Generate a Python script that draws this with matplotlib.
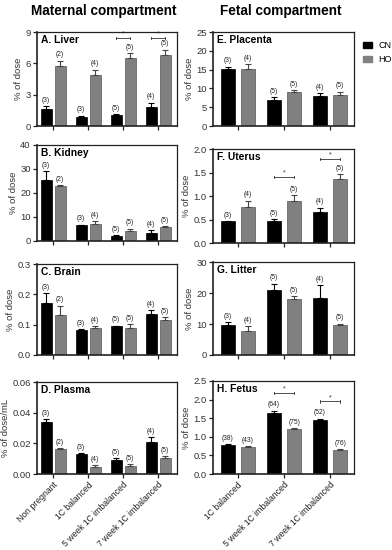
import matplotlib
matplotlib.use("Agg")
import matplotlib.pyplot as plt
import numpy as np
from matplotlib.patches import Patch

plt.rcParams['font.family'] = ['Liberation Sans', 'DejaVu Sans']

mat_groups = ["Non pregnant", "1C balanced", "5 week 1C imbalanced", "7 week 1C imbalanced"]
fet_groups = ["1C balanced", "5 week 1C imbalanced", "7 week 1C imbalanced"]

# Maternal panels
liver_cn = [1.65, 0.9, 1.1, 1.85]
liver_cn_err = [0.25, 0.1, 0.05, 0.4]
liver_ho = [5.75, 4.9, 6.5, 6.8]
liver_ho_err = [0.5, 0.5, 0.5, 0.5]
liver_n_cn = ["(3)", "(3)", "(5)", "(4)"]
liver_n_ho = ["(2)", "(4)", "(5)", "(5)"]
liver_sig = [2, 3]
liver_sig_y = [8.4, 8.4]

kidney_cn = [25.5, 6.5, 2.0, 3.3]
kidney_cn_err = [3.5, 0.3, 0.5, 1.1]
kidney_ho = [23.0, 7.2, 4.1, 5.8]
kidney_ho_err = [0.3, 1.1, 1.0, 0.4]
kidney_n_cn = ["(3)", "(3)", "(5)", "(4)"]
kidney_n_ho = ["(2)", "(4)", "(5)", "(5)"]

brain_cn = [0.171, 0.082, 0.095, 0.135]
brain_cn_err = [0.033, 0.004, 0.002, 0.012]
brain_ho = [0.132, 0.089, 0.089, 0.114]
brain_ho_err = [0.031, 0.007, 0.012, 0.011]
brain_n_cn = ["(3)", "(3)", "(5)", "(4)"]
brain_n_ho = ["(2)", "(4)", "(5)", "(5)"]

plasma_cn = [0.034, 0.0128, 0.009, 0.0207]
plasma_cn_err = [0.0017, 0.0009, 0.0015, 0.0033]
plasma_ho = [0.0163, 0.0047, 0.0051, 0.0105]
plasma_ho_err = [0.0007, 0.0009, 0.0011, 0.0011]
plasma_n_cn = ["(3)", "(3)", "(5)", "(4)"]
plasma_n_ho = ["(2)", "(4)", "(5)", "(5)"]

# Fetal panels
placenta_cn = [15.1, 6.9, 7.9]
placenta_cn_err = [0.7, 0.7, 0.8]
placenta_ho = [15.1, 9.1, 8.3]
placenta_ho_err = [1.4, 0.5, 0.8]
placenta_n_cn = ["(3)", "(5)", "(4)"]
placenta_n_ho = ["(4)", "(5)", "(5)"]

uterus_cn = [0.46, 0.47, 0.65]
uterus_cn_err = [0.01, 0.04, 0.1]
uterus_ho = [0.76, 0.89, 1.36]
uterus_ho_err = [0.14, 0.13, 0.1]
uterus_n_cn = ["(3)", "(5)", "(4)"]
uterus_n_ho = ["(4)", "(5)", "(5)"]
uterus_sig = [1, 2]
uterus_sig_y = [1.41, 1.79]

litter_cn = [9.6, 21.0, 18.5]
litter_cn_err = [0.9, 2.0, 4.0]
litter_ho = [7.9, 18.0, 9.6]
litter_ho_err = [1.4, 0.9, 0.5]
litter_n_cn = ["(3)", "(5)", "(4)"]
litter_n_ho = ["(4)", "(5)", "(5)"]

fetus_cn = [0.78, 1.65, 1.45]
fetus_cn_err = [0.03, 0.05, 0.04]
fetus_ho = [0.72, 1.21, 0.64]
fetus_ho_err = [0.03, 0.03, 0.02]
fetus_n_cn = ["(38)", "(64)", "(52)"]
fetus_n_ho = ["(43)", "(75)", "(76)"]
fetus_sig = [1, 2]
fetus_sig_y = [2.18, 1.95]

W, H = 392, 550
fig = plt.figure(figsize=(W / 100, H / 100), dpi=100)

CN_COLOR = "#000000"
HO_COLOR = "#808080"

def make_ax(x0, top, w, bottom):
    return fig.add_axes([x0 / W, 1 - bottom / H, w / W, (bottom - top) / H])

def panel(ax, cn, cn_err, ho, ho_err, n_cn, n_ho, ymax, yticks, yfmt, label,
          ylabel, groups, xlim, bw, off, sig=None, sig_y=None, show_x=False):
    x = np.arange(len(cn))
    ax.bar(x - off, cn, bw, color=CN_COLOR, edgecolor="#000000", linewidth=0.5,
           yerr=[np.zeros(len(cn)), cn_err], capsize=2.2,
           error_kw=dict(ecolor="#000000", elinewidth=0.8, capthick=0.8))
    ax.bar(x + off, ho, bw, color=HO_COLOR, edgecolor="#555555", linewidth=0.5,
           yerr=[np.zeros(len(ho)), ho_err], capsize=2.2,
           error_kw=dict(ecolor="#444444", elinewidth=0.8, capthick=0.8))
    pad = ymax * 0.025
    for i in range(len(cn)):
        ax.text(x[i] - off, cn[i] + cn_err[i] + pad, n_cn[i], ha="center",
                va="bottom", fontsize=4.8, color="#222222")
        ax.text(x[i] + off, ho[i] + ho_err[i] + pad, n_ho[i], ha="center",
                va="bottom", fontsize=4.8, color="#222222")
    if sig:
        for g, yy in zip(sig, sig_y):
            x1, x2 = g - off, g + off
            ax.plot([x1, x2], [yy, yy], color="#333333", lw=0.6)
            for xx in (x1, x2):
                ax.plot([xx, xx], [yy - ymax * 0.012, yy + ymax * 0.012],
                        color="#333333", lw=0.6)
            ax.text(g, yy + ymax * 0.005, "*", ha="center", va="bottom",
                    fontsize=5, color="#333333")
    ax.set_ylim(0, ymax)
    ax.set_xlim(*xlim)
    ax.set_yticks(yticks)
    ax.set_yticklabels([yfmt.format(t) for t in yticks], fontsize=6.8,
                       color="#333333")
    ax.set_xticks(x)
    if show_x:
        ax.set_xticklabels(groups, rotation=45, ha="right",
                           rotation_mode="anchor", fontsize=6.2,
                           color="#222222")
    else:
        ax.set_xticklabels([])
    for side in ("left", "bottom"):
        ax.spines[side].set_linewidth(1.2)
        ax.spines[side].set_color("#222222")
    for side in ("top", "right"):
        ax.spines[side].set_linewidth(0.9)
        ax.spines[side].set_color("#222222")
    ax.tick_params(axis="both", length=3, width=0.9, color="#222222", pad=1.5)
    if ylabel:
        ax.set_ylabel(ylabel, fontsize=6.8, color="#333333", labelpad=1.5)
    ax.text(0.03, 0.965, label, transform=ax.transAxes, ha="left", va="top",
            fontsize=7.4, fontweight="bold")

# Left column
lx, lw = 37, 140
lxlim = (-0.46, 3.54)
lbw, loff = 0.32, 0.2
axA = make_ax(lx, 32, lw, 126)
panel(axA, liver_cn, liver_cn_err, liver_ho, liver_ho_err, liver_n_cn, liver_n_ho,
      9, [0, 3, 6, 9], "{:g}", "A. Liver", "% of dose", mat_groups, lxlim, lbw, loff,
      liver_sig, liver_sig_y)
axB = make_ax(lx, 145, lw, 241)
panel(axB, kidney_cn, kidney_cn_err, kidney_ho, kidney_ho_err, kidney_n_cn, kidney_n_ho,
      40, [0, 10, 20, 30, 40], "{:g}", "B. Kidney", "% of dose", mat_groups, lxlim, lbw, loff)
axC = make_ax(lx, 264, lw, 355)
panel(axC, brain_cn, brain_cn_err, brain_ho, brain_ho_err, brain_n_cn, brain_n_ho,
      0.3, [0, 0.1, 0.2, 0.3], "{:.1f}", "C. Brain", "% of dose", mat_groups, lxlim, lbw, loff)
axD = make_ax(lx, 382, lw, 474)
panel(axD, plasma_cn, plasma_cn_err, plasma_ho, plasma_ho_err, plasma_n_cn, plasma_n_ho,
      0.06, [0, 0.02, 0.04, 0.06], "{:.2f}", "D. Plasma", "% of dose/mL", mat_groups,
      lxlim, lbw, loff, show_x=True)

# Right column
rx, rw = 213, 141
rxlim = (-0.54, 2.52)
rbw, roff = 0.3, 0.22
axE = make_ax(rx, 32, rw, 126)
panel(axE, placenta_cn, placenta_cn_err, placenta_ho, placenta_ho_err, placenta_n_cn,
      placenta_n_ho, 25, [0, 5, 10, 15, 20, 25], "{:g}", "E. Placenta", "% of dose",
      fet_groups, rxlim, rbw, roff)
axF = make_ax(rx, 149, rw, 243)
panel(axF, uterus_cn, uterus_cn_err, uterus_ho, uterus_ho_err, uterus_n_cn, uterus_n_ho,
      2.0, [0, 0.5, 1.0, 1.5, 2.0], "{:.1f}", "F. Uterus", "% of dose", fet_groups,
      rxlim, rbw, roff, uterus_sig, uterus_sig_y)
axG = make_ax(rx, 262, rw, 355)
panel(axG, litter_cn, litter_cn_err, litter_ho, litter_ho_err, litter_n_cn, litter_n_ho,
      30, [0, 10, 20, 30], "{:g}", "G. Litter", "% of dose", fet_groups, rxlim, rbw, roff)
axH = make_ax(rx, 381, rw, 474)
panel(axH, fetus_cn, fetus_cn_err, fetus_ho, fetus_ho_err, fetus_n_cn, fetus_n_ho,
      2.5, [0, 0.5, 1.0, 1.5, 2.0, 2.5], "{:.1f}", "H. Fetus", "% of dose", fet_groups,
      rxlim, rbw, roff, fetus_sig, fetus_sig_y, show_x=True)

fig.text(104 / W, 1 - 11 / H, "Maternal compartment", ha="center", va="center",
         fontsize=9.8, fontweight="bold")
fig.text(281 / W, 1 - 11 / H, "Fetal compartment", ha="center", va="center",
         fontsize=9.8, fontweight="bold")

handles = [Patch(facecolor=CN_COLOR, edgecolor=CN_COLOR, label="CN"),
           Patch(facecolor=HO_COLOR, edgecolor=HO_COLOR, label="HO")]
fig.legend(handles=handles, loc="upper left", bbox_to_anchor=(357 / W, 1 - 35 / H),
           frameon=False, fontsize=6.5, handlelength=1.0, handleheight=0.55,
           handletextpad=0.7, labelspacing=0.55, borderpad=0.2)

fig.savefig("out.png", dpi=100)
